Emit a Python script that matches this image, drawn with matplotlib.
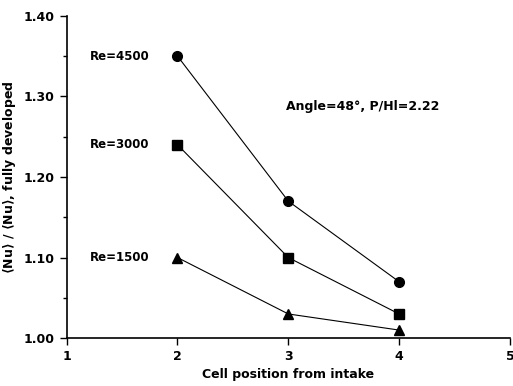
import matplotlib
matplotlib.use("Agg")
import matplotlib.pyplot as plt
from matplotlib.ticker import MultipleLocator

# cell positions and normalised Nusselt numbers
cells = [2, 3, 4]
nu_4500 = [1.35, 1.17, 1.07]
nu_3000 = [1.24, 1.10, 1.03]
nu_1500 = [1.10, 1.03, 1.01]
labels = ["Re=4500", "Re=3000", "Re=1500"]

plt.rcParams['font.family'] = ['DejaVu Sans']
plt.rcParams['font.weight'] = 'bold'

fig = plt.figure(figsize=(5.13, 3.86), dpi=100)
ax = fig.add_axes([0.13, 0.124, 0.864, 0.835])

ax.plot(cells, nu_4500, 'k-', marker='o', ms=7, lw=0.8)
ax.plot(cells, nu_3000, 'k-', marker='s', ms=7, lw=0.8)
ax.plot(cells, nu_1500, 'k-', marker='^', ms=7, lw=0.8)

for lab, ys in zip(labels, [nu_4500, nu_3000, nu_1500]):
    ax.text(1.75, ys[0], lab, ha='right', va='center', fontsize=8.5, fontweight='bold')

ax.text(2.98, 1.287, "Angle=48°, P/Hl=2.22", fontsize=9, fontweight='bold', va='center')

ax.set_xlim(1, 5)
ax.set_ylim(1.0, 1.4)
ax.set_xticks([1, 2, 3, 4, 5])
ax.set_yticks([1.0, 1.1, 1.2, 1.3, 1.4])
ax.set_yticklabels(["1.00", "1.10", "1.20", "1.30", "1.40"])
ax.yaxis.set_minor_locator(MultipleLocator(0.05))
ax.tick_params(axis='both', direction='out', labelsize=9, width=1, length=5)
ax.tick_params(axis='y', which='minor', length=3, width=1)
for s in ['top', 'right']:
    ax.spines[s].set_visible(False)
for s in ['left', 'bottom']:
    ax.spines[s].set_linewidth(1.2)

ax.set_xlabel("Cell position from intake", fontsize=9, fontweight='bold')
ax.set_ylabel(r"$\langle$Nu$\rangle$ / $\langle$Nu$\rangle$, fully developed",
              fontsize=9, fontweight='bold')

fig.savefig("out.png", dpi=100)
